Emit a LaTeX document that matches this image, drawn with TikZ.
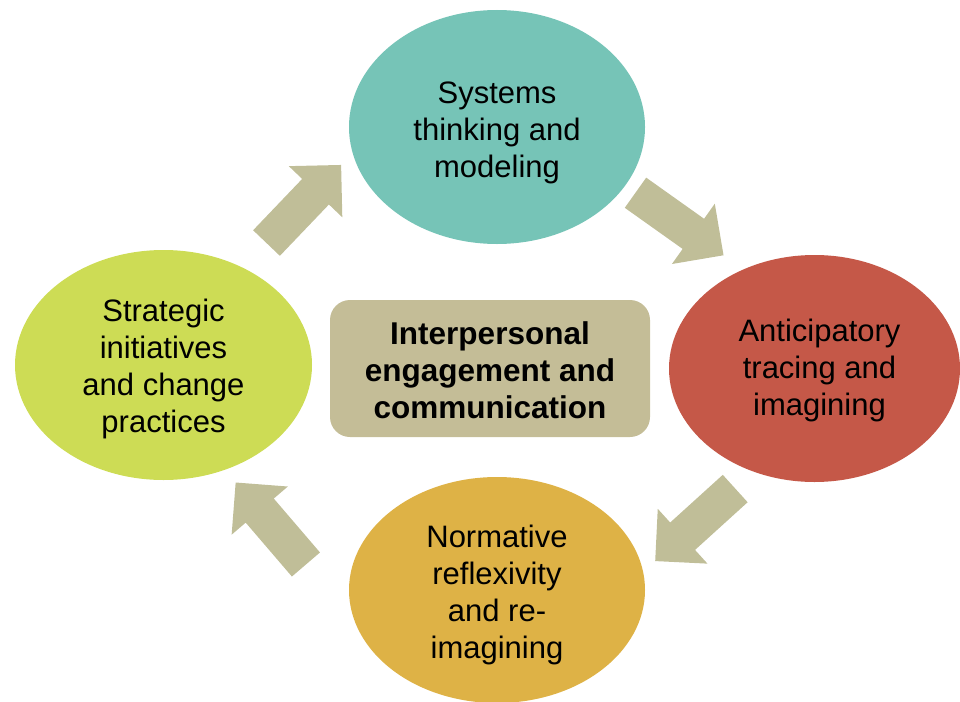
\documentclass[tikz,border=0pt]{standalone}
\usepackage{fontspec}
\setmainfont{Liberation Sans}
\usetikzlibrary{shapes.geometric}
\begin{document}
\begin{tikzpicture}[x=1pt,y=1pt,
  stage/.style={ellipse, inner sep=0pt},
  stagetext/.style={inner sep=0pt, align=center, font=\fontsize{31}{37}\selectfont},
  hub/.style={rounded corners=20pt, fill=hubtan, inner sep=0pt, align=center, font=\bfseries\fontsize{31.5}{37}\selectfont},
  blockarrow/.pic={\fill[arrowtan] (-54,-18.5) -- (17,-18.5) -- (17,-37) -- (54,0) -- (17,37) -- (17,18.5) -- (-54,18.5) -- cycle;}
]
\definecolor{tealc}{HTML}{76C4B7}
\definecolor{redc}{HTML}{C55848}
\definecolor{orangec}{HTML}{DEB246}
\definecolor{greenc}{HTML}{CDDC55}
\definecolor{hubtan}{HTML}{C4BD97}
\definecolor{arrowtan}{HTML}{C0BE98}
\useasboundingbox (0,0) rectangle (960,-701);
\clip (0,0) rectangle (960,-701);

% the four stages
\node[stage, fill=tealc, minimum width=296pt, minimum height=234pt] (sys) at (497,-127) {};
\node[stage, fill=redc, minimum width=291pt, minimum height=227pt] (ant) at (814.5,-368.5) {};
\node[stage, fill=orangec, minimum width=296pt, minimum height=226pt] (nor) at (497,-590) {};
\node[stage, fill=greenc, minimum width=297pt, minimum height=230pt] (str) at (163.5,-365) {};

\node[stagetext] (sys-t) at ([yshift=-6pt]sys.center) {Systems\\thinking and\\modeling};
\node[stagetext] (ant-t) at ([xshift=5pt,yshift=-2pt]ant.center) {Anticipatory\\tracing and\\imagining};
\node[stagetext] (nor-t) at ([yshift=-5pt]nor.center) {Normative\\reflexivity\\and re-\\imagining};
\node[stagetext] (str-t) at ([yshift=-4pt]str.center) {Strategic\\initiatives\\and change\\practices};

% central element
\node[hub, minimum width=320pt, minimum height=137pt] (hub) at (490,-368.5) {};
\node[stagetext, font=\bfseries\fontsize{31.5}{37}\selectfont] (hub-t) at ([yshift=-2pt]hub.center) {Interpersonal\\engagement and\\communication};

% cycle arrows
\pic[rotate=46.3] at (303.8,-204) {blockarrow};
\pic[rotate=-35.4] at (679.5,-224) {blockarrow};
\pic[rotate=222.2] at (695.2,-524.8) {blockarrow};
\pic[rotate=130.6] at (270.8,-523.5) {blockarrow};
\end{tikzpicture}
\end{document}
